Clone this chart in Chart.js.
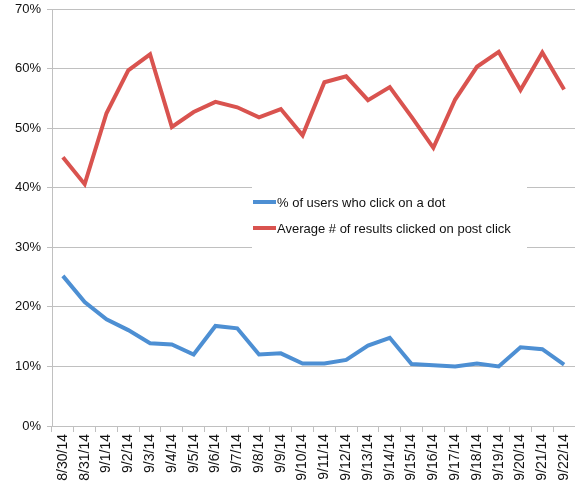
<!DOCTYPE html>
<html>
<head>
<meta charset="utf-8">
<script src="https://cdn.jsdelivr.net/npm/chart.js@4.4.1/dist/chart.umd.min.js"></script>
<style>
  html, body { margin: 0; padding: 0; background: #fff; }
  #wrap { width: 575px; height: 484px; }
</style>
</head>
<body>
<div id="wrap"><canvas id="chart" width="575" height="484"></canvas></div>
<script>
// DATA
const days = ["8/30/14", "8/31/14", "9/1/14", "9/2/14", "9/3/14", "9/4/14", "9/5/14", "9/6/14",
  "9/7/14", "9/8/14", "9/9/14", "9/10/14", "9/11/14", "9/12/14", "9/13/14", "9/14/14",
  "9/15/14", "9/16/14", "9/17/14", "9/18/14", "9/19/14", "9/20/14", "9/21/14", "9/22/14"];

const clickDotPct = [25.2, 20.8, 17.9, 16.1, 13.9, 13.7, 12.0, 16.8, 16.4, 12.0, 12.2, 10.5,
  10.5, 11.1, 13.5, 14.8, 10.4, 10.2, 10.0, 10.5, 10.0, 13.2, 12.9, 10.3];

const avgResultsPct = [45.1, 40.6, 52.5, 59.7, 62.4, 50.2, 52.7, 54.4, 53.5, 51.8, 53.2, 48.8,
  57.7, 58.7, 54.7, 56.9, 51.9, 46.7, 54.8, 60.3, 62.8, 56.4, 62.7, 56.5];

const seriesNames = ["% of users who click on a dot", "Average # of results clicked on post click"];
const yMax = 70;
const yStep = 10;

const FONT = "'Liberation Sans', Arial, sans-serif";
const GRID = "#c0c0c0";

// legend drawn inside the plot, over the gridlines but under the lines
const innerLegend = {
  id: "innerLegend",
  beforeDatasetsDraw(chart) {
    const ctx = chart.ctx;
    const a = chart.chartArea;
    const x0 = a.left + 200;
    const y0 = 184;
    ctx.save();
    ctx.fillStyle = "#fff";
    ctx.fillRect(x0, y0, 275, 68);
    ctx.font = "13px " + FONT;
    ctx.textBaseline = "middle";
    chart.data.datasets.forEach((ds, i) => {
      const y = 202 + i * 26;
      ctx.strokeStyle = ds.borderColor;
      ctx.lineWidth = 4;
      ctx.beginPath();
      ctx.moveTo(x0 + 1, y);
      ctx.lineTo(x0 + 24, y);
      ctx.stroke();
      ctx.fillStyle = "#111";
      ctx.fillText(ds.label, x0 + 25, y + 1);
    });
    ctx.restore();
  }
};

new Chart(document.getElementById("chart"), {
  type: "line",
  data: {
    labels: days,
    datasets: [
      { label: seriesNames[0], data: clickDotPct, borderColor: "#4d8fd3", borderWidth: 4,
        pointRadius: 0, tension: 0, fill: false, borderJoinStyle: "miter" },
      { label: seriesNames[1], data: avgResultsPct, borderColor: "#d9534f", borderWidth: 4,
        pointRadius: 0, tension: 0, fill: false, borderJoinStyle: "miter" }
    ]
  },
  options: {
    responsive: false,
    animation: false,
    layout: { padding: { top: 9, right: 0, left: 0, bottom: 0 } },
    plugins: { legend: { display: false }, tooltip: { enabled: false } },
    scales: {
      x: {
        offset: true,
        grid: { offset: true, drawOnChartArea: false, drawTicks: true, tickLength: 6, color: GRID },
        border: { color: GRID },
        ticks: { minRotation: 90, maxRotation: 90, autoSkip: false, color: "#111",
          font: { family: FONT, size: 14 }, padding: 2 },
        afterFit(s) { s.height = 58; s.paddingLeft = 0; s.paddingRight = 0; }
      },
      y: {
        min: 0,
        max: yMax,
        grid: { color: GRID, tickLength: 5 },
        border: { color: GRID },
        ticks: { stepSize: yStep, color: "#111", font: { family: FONT, size: 13 }, padding: 6,
          callback: (v) => v + "%" },
        afterFit(s) { s.width = 52; s.paddingTop = 0; s.paddingBottom = 0; }
      }
    }
  },
  plugins: [innerLegend]
});
</script>
</body>
</html>
